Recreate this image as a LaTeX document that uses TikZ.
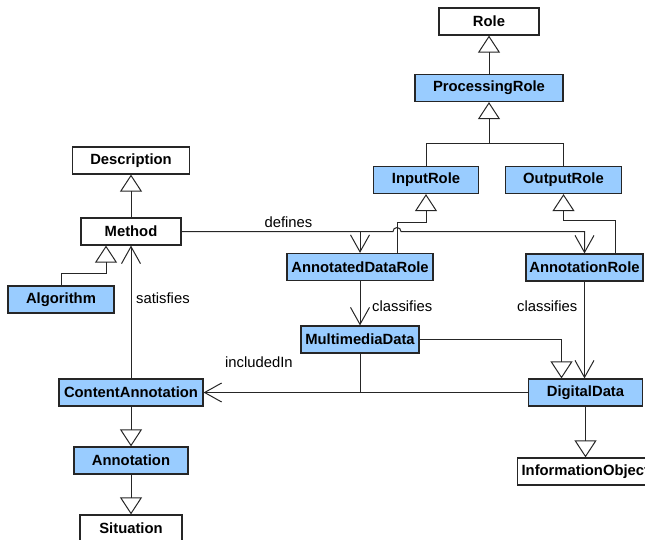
\documentclass[tikz,border=0pt]{standalone}
\usepackage{fontspec}
\setmainfont{Liberation Sans}
\usepackage{xcolor}
\usepackage{tikz}
\usetikzlibrary{arrows.meta,calc}

\definecolor{clsblue}{RGB}{153,204,255}

\begin{document}
\begin{tikzpicture}[x=1pt, y=-1pt,
    cls/.style={draw=black!85, line width=1.2pt, fill=white, minimum width=100pt,
                minimum height=27pt, inner xsep=18pt, inner ysep=0pt,
                font=\fontsize{14.8}{17}\selectfont\bfseries},
    blu/.style={cls, fill=clsblue},
    lbl/.style={inner sep=0pt, font=\fontsize{14.8}{17}\selectfont},
    conn/.style={draw=black!85, line width=1pt},
    gen/.style={conn, -{Triangle[open, length=17pt, width=22pt]}},
    assoc/.style={conn, -{Straight Barb[length=17pt, width=19pt]}}]
            \useasboundingbox (0,0) rectangle (645,540);

            % classes
            \node[cls] (role) at (489,21.5) {Role};
            \node[blu, minimum width=148pt] (prole) at (489,88) {ProcessingRole};
            \node[blu] (inrole) at (426,180) {InputRole};
            \node[blu, minimum width=101pt] (outrole) at (563.5,180) {OutputRole};
            \node[blu, minimum width=146pt, inner xsep=2pt] (adr) at (360,267) {AnnotatedDataRole};
            \node[blu, minimum width=117pt, inner xsep=2pt] (ar) at (584.5,267.5) {AnnotationRole};
            \node[blu, minimum width=118pt, inner xsep=2pt] (mmd) at (360,339.5) {MultimediaData};
            \node[blu, minimum width=101pt] (dd) at (585.5,392.5) {DigitalData};
            \node[cls, anchor=west, inner xsep=4pt] (io) at (517,471.5) {InformationObject};
            \node[cls] (desc) at (131,160.5) {Description};
            \node[cls] (meth) at (131,231.5) {Method};
            \node[blu] (alg) at (61,299.5) {Algorithm};
            \node[blu, minimum width=144pt, inner xsep=2pt] (ca) at (131,392.5) {ContentAnnotation};
            \node[blu, minimum width=102pt] (ann) at (131,460.5) {Annotation};
            \node[cls, minimum width=102pt] (sit) at (131,528.5) {Situation};

            % labels
            \node[lbl] (ldef) at (288.5,222) {defines};
            \node[lbl, anchor=west] (lcls1) at (372,306) {classifies};
            \node[lbl, anchor=west] (lcls2) at (517,306) {classifies};
            \node[lbl, anchor=west] (lsat) at (136,298) {satisfies};
            \node[lbl, anchor=west] (linc) at (225,362) {includedIn};

            \coordinate (pjoin) at ($(prole.south)+(0,41)$);
            \coordinate (adrup) at ($(adr.north)+(37,0)$);
            \coordinate (arup) at ($(ar.north)+(30.5,0)$);
            \coordinate (algup) at ($(meth.south)+(-25,0)$);
            \coordinate (ddup) at ($(dd.north)+(-24,0)$);

            \draw[gen] (prole) -- (role); % processing-role
            \draw[conn] (inrole.north) |- (pjoin) -| (outrole.north); % input/output
            \draw[gen] (pjoin) -- (prole.south);
            \draw[gen] (adrup) |- ($(inrole.south)+(0,28)$) -- (inrole.south); % adr-input
            \draw[gen] (arup) |- ($(outrole.south)+(0,26)$) -- (outrole.south); % ar-output

            \draw[assoc] (meth.east) -- ($(adrup |- meth.east)+(-4,0)$)
                arc[start angle=180, end angle=360, radius=4] -| (ar.north); % defines
            \draw[assoc] (adr.north |- meth.east) -- (adr.north);

            \draw[assoc] (adr) -- (mmd); % classifies
            \draw[assoc] (ar.south) -- (ar.south |- dd.north); % classifies
            \draw[gen] (mmd.east) -| (ddup); % mmd-dd

            \draw[assoc] (dd.west) -- (ca.east); % includedIn
            \draw[conn] (mmd.south) -- (mmd.south |- dd.west);

            \draw[assoc] (ca.north) -- (meth.south); % satisfies
            \draw[gen] (alg.north) |- ($(algup)+(0,28)$) -- (algup); % alg-method
            \draw[gen] (meth) -- (desc);
            \draw[gen] (ca) -- (ann);
            \draw[gen] (ann) -- (sit);
            \draw[gen] (dd.south) -- (dd.south |- io.north); % dd-io
\end{tikzpicture}
\end{document}
